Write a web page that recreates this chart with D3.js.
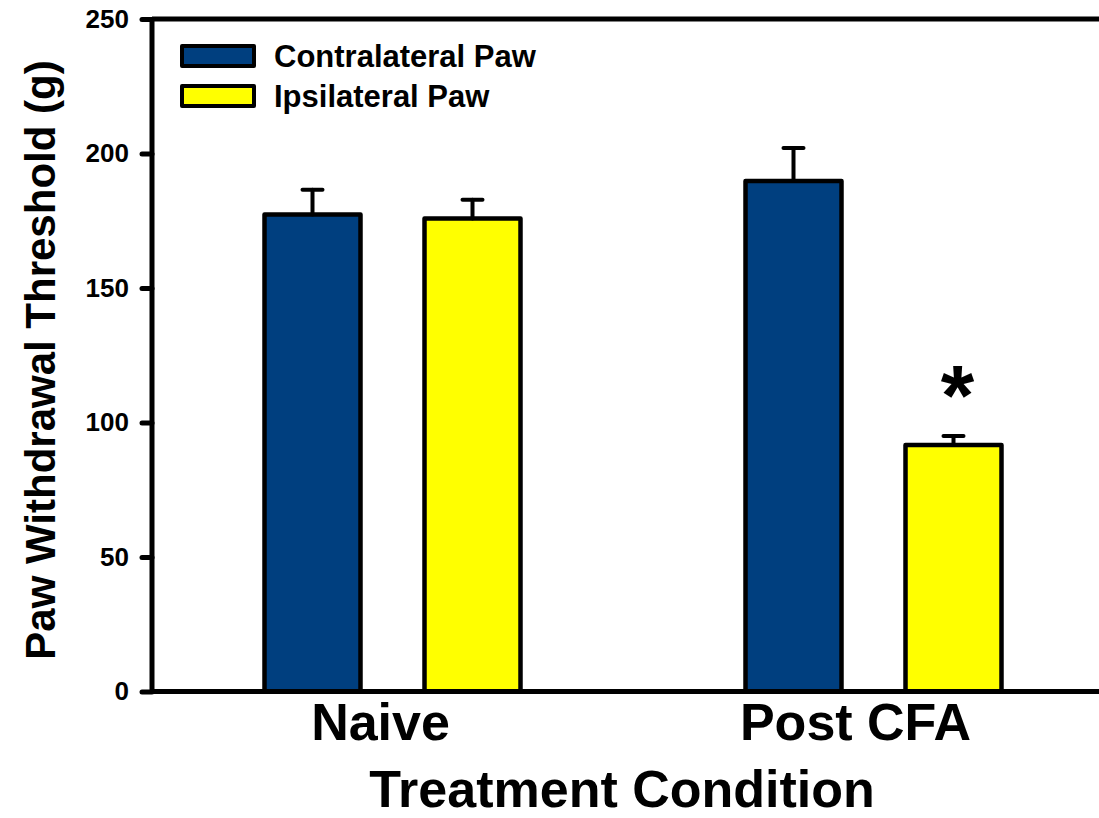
<!DOCTYPE html>
<html>
<head>
<meta charset="utf-8">
<script src="https://cdn.jsdelivr.net/npm/d3@7"></script>
<style>
  html, body { margin: 0; padding: 0; background: #fff; }
  svg { display: block; font-family: Arial, "Liberation Sans", sans-serif; font-weight: bold; }
</style>
</head>
<body>
<svg id="chart"></svg>
<script>
const width = 1099
const height = 818

// data
const groups = ['Naive', 'Post CFA']
const seriesNames = ['Contralateral Paw', 'Ipsilateral Paw']
const seriesColors = ['#003f7f', '#ffff00']
const contraMeans = [177.3, 189.8]
const contraErrors = [9.2, 12.2]
const ipsiMeans = [175.8, 91.6]
const ipsiErrors = [7.0, 3.4]
const yTicks = [0, 50, 100, 150, 200, 250]
const significant = [false, true] // asterisk over ipsilateral bar

const bars = []
groups.forEach((g, i) => {
  bars.push({ group: g, series: 0, mean: contraMeans[i], err: contraErrors[i] })
  bars.push({ group: g, series: 1, mean: ipsiMeans[i], err: ipsiErrors[i], star: significant[i] })
})

const svg = d3.select('#chart').attr('width', width).attr('height', height)

const y = d3.scaleLinear().domain([0, 250]).range([691.5, 19])
const x = d3.scaleBand().domain(groups).range([152, 1114])
const barOffset = [-80, 80]
const barW = 96

// top frame line
svg.append('line')
  .attr('x1', x.range()[0]).attr('x2', x.range()[1])
  .attr('y1', y(250)).attr('y2', y(250))
  .attr('stroke', '#000').attr('stroke-width', 5)

// bars
const barG = svg.append('g')
barG.selectAll('rect')
  .data(bars)
  .enter().append('rect')
  .attr('x', d => x(d.group) + x.bandwidth() / 2 + barOffset[d.series] - barW / 2)
  .attr('y', d => y(d.mean))
  .attr('width', barW)
  .attr('height', d => y(0) - y(d.mean))
  .attr('fill', d => seriesColors[d.series])
  .attr('stroke', '#000')
  .attr('stroke-width', 4.5)
  .attr('stroke-linejoin', 'round')

// error bars (upper only)
const errG = svg.append('g').attr('stroke', '#000').attr('stroke-width', 4).attr('stroke-linecap', 'round')
bars.forEach(d => {
  const cx = x(d.group) + x.bandwidth() / 2 + barOffset[d.series]
  errG.append('line')
    .attr('x1', cx).attr('x2', cx)
    .attr('y1', y(d.mean)).attr('y2', y(d.mean + d.err))
  errG.append('line')
    .attr('x1', cx - 10).attr('x2', cx + 10)
    .attr('y1', y(d.mean + d.err)).attr('y2', y(d.mean + d.err))
})

// significance marker
svg.append('g').selectAll('text')
  .data(bars.filter(d => d.star))
  .enter().append('text')
  .attr('x', d => x(d.group) + x.bandwidth() / 2 + barOffset[d.series] + 4)
  .attr('y', 425)
  .attr('text-anchor', 'middle')
  .attr('font-size', 86)
  .text('*')

// y axis
const yAxis = svg.append('g')
  .attr('transform', `translate(${x.range()[0]},0)`)
  .call(d3.axisLeft(y).tickValues(yTicks).tickSize(10).tickPadding(13))
yAxis.select('.domain').attr('stroke-width', 5).attr('d', `M0,${y(0)}V${y(250)}`)
yAxis.selectAll('.tick line').attr('stroke-width', 5).attr('stroke-linecap', 'round')
yAxis.selectAll('.tick text')
  .attr('font-size', 26).attr('font-weight', 'bold').attr('font-family', 'Arial, "Liberation Sans", sans-serif')

// x axis
const xAxis = svg.append('g')
  .attr('transform', `translate(0,${y(0)})`)
  .call(d3.axisBottom(x).tickSize(0).tickPadding(0))
xAxis.select('.domain').attr('stroke-width', 5).attr('d', `M${x.range()[0] - 2},0H${x.range()[1]}`)
xAxis.selectAll('.tick text')
  .attr('font-size', 52).attr('font-weight', 'bold').attr('font-family', 'Arial, "Liberation Sans", sans-serif')
  .attr('dy', null).attr('y', 48).attr('x', (d, i) => i === 0 ? -12 : -18)

// axis titles
svg.append('text')
  .attr('transform', 'translate(55,360) rotate(-90)')
  .attr('text-anchor', 'middle')
  .attr('font-size', 42)
  .text('Paw Withdrawal Threshold (g)')

svg.append('text')
  .attr('x', 622).attr('y', 807)
  .attr('text-anchor', 'middle')
  .attr('font-size', 52)
  .text('Treatment Condition')

// legend
const legend = svg.append('g').attr('transform', 'translate(182,46)')
const item = legend.selectAll('g')
  .data(seriesNames)
  .enter().append('g')
  .attr('transform', (d, i) => `translate(0,${i * 40})`)
item.append('rect')
  .attr('width', 72).attr('height', 20)
  .attr('fill', (d, i) => seriesColors[i])
  .attr('stroke', '#000').attr('stroke-width', 4).attr('stroke-linejoin', 'round')
item.append('text')
  .attr('x', 92).attr('y', 21)
  .attr('font-size', 31)
  .text(d => d)
</script>
</body>
</html>
